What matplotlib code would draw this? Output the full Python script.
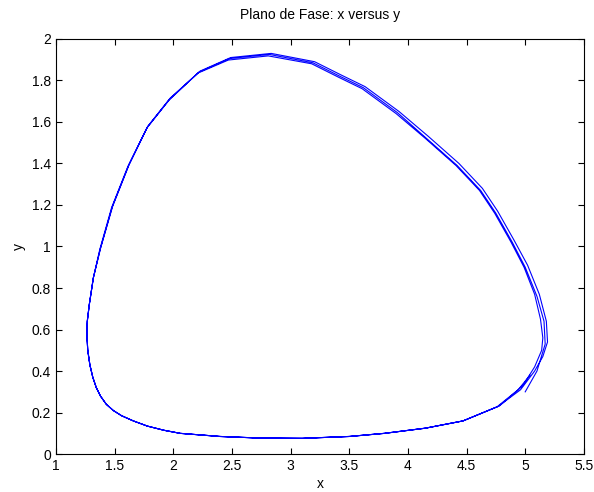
import numpy as np
import matplotlib
matplotlib.use('Agg')
import matplotlib.pyplot as plt

plt.rcParams['font.family'] = ['Liberation Sans', 'DejaVu Sans']

# trajectory, one cycle per list (counterclockwise)
loop1_x = [5.00, 5.10, 5.17, 5.16, 5.10, 5.00, 4.89, 4.75, 4.62, 4.42, 4.16, 3.91, 3.62, 3.42, 3.19,
           2.82, 2.48, 2.22, 1.97, 1.78, 1.62, 1.48, 1.38, 1.32, 1.285, 1.268, 1.265, 1.272, 1.29,
           1.315, 1.345, 1.38, 1.43, 1.49, 1.56, 1.66, 1.78, 1.92, 2.06, 2.40, 2.75, 3.10, 3.50, 3.80,
           4.15, 4.47, 4.77, 4.96]
loop1_y = [0.30, 0.40, 0.53, 0.64, 0.76, 0.90, 1.02, 1.16, 1.27, 1.39, 1.52, 1.645, 1.765, 1.82, 1.885,
           1.925, 1.905, 1.84, 1.71, 1.575, 1.39, 1.19, 0.99, 0.85, 0.72, 0.64, 0.57, 0.50, 0.43,
           0.37, 0.32, 0.28, 0.24, 0.21, 0.185, 0.16, 0.135, 0.115, 0.10, 0.085, 0.077, 0.076, 0.085,
           0.10, 0.125, 0.16, 0.23, 0.31]

loop2_x = [4.96, 5.08, 5.15, 5.19, 5.18, 5.12, 5.02, 4.905, 4.765, 4.635, 4.435, 4.175, 3.925, 3.635,
           3.435, 3.205, 2.835, 2.49, 2.23, 1.975, 1.785, 1.625, 1.485, 1.38, 1.32, 1.285, 1.268, 1.265,
           1.272, 1.29, 1.315, 1.345, 1.38, 1.43, 1.49, 1.56, 1.66, 1.78, 1.92, 2.06, 2.40, 2.75, 3.10,
           3.50, 3.80, 4.15, 4.47, 4.78, 4.98]
loop2_y = [0.31, 0.40, 0.47, 0.54, 0.64, 0.77, 0.91, 1.03, 1.17, 1.28, 1.40, 1.53, 1.65, 1.77, 1.825,
           1.89, 1.93, 1.91, 1.845, 1.715, 1.58, 1.395, 1.195, 0.99, 0.85, 0.72, 0.64, 0.57, 0.50,
           0.43, 0.37, 0.32, 0.28, 0.24, 0.21, 0.185, 0.16, 0.135, 0.115, 0.10, 0.085, 0.077, 0.076,
           0.085, 0.10, 0.125, 0.16, 0.232, 0.33]

loop3_x = [4.98, 5.08, 5.14, 5.15, 5.13, 5.08, 4.99, 4.88, 4.74, 4.61, 4.41, 4.15, 3.90, 3.61, 3.41,
           3.18, 2.81, 2.47, 2.21, 1.965, 1.775, 1.615, 1.475, 1.375, 1.32, 1.285, 1.268, 1.265,
           1.272, 1.29, 1.315, 1.345, 1.38, 1.43, 1.49, 1.56, 1.66, 1.78, 1.92, 2.06, 2.40, 2.75,
           3.10, 3.50, 3.80, 4.15, 4.47, 4.76, 4.94, 5.04]
loop3_y = [0.33, 0.42, 0.50, 0.56, 0.65, 0.77, 0.90, 1.02, 1.16, 1.27, 1.39, 1.52, 1.64, 1.76, 1.815,
           1.88, 1.918, 1.898, 1.835, 1.705, 1.57, 1.387, 1.187, 0.987, 0.85, 0.72, 0.64, 0.57, 0.50,
           0.43, 0.37, 0.32, 0.28, 0.24, 0.21, 0.185, 0.16, 0.135, 0.115, 0.10, 0.085, 0.077, 0.076,
           0.085, 0.10, 0.125, 0.16, 0.228, 0.31, 0.38]

x = loop1_x + loop2_x + loop3_x
y = loop1_y + loop2_y + loop3_y

fig = plt.figure(figsize=(5.94, 4.92), dpi=100)
ax = fig.add_axes([0.094, 0.077, 0.889, 0.844])
ax.plot(x, y, color=(0, 0, 1), lw=0.8)

ax.set_xlim(1, 5.5)
ax.set_ylim(0, 2)
ax.set_xticks(np.arange(1, 5.51, 0.5))
ax.set_yticks(np.arange(0, 2.01, 0.2))
ax.set_xticklabels(['1', '1.5', '2', '2.5', '3', '3.5', '4', '4.5', '5', '5.5'])
ax.set_yticklabels(['0', '0.2', '0.4', '0.6', '0.8', '1', '1.2', '1.4', '1.6', '1.8', '2'])
ax.tick_params(direction='in', top=True, right=True, length=4, width=0.8, labelsize=10)
for s in ax.spines.values():
    s.set_linewidth(0.8)

ax.set_title('Plano de Fase: x versus y', fontsize=10, pad=14)
ax.set_xlabel('x', fontsize=10, labelpad=3)
ax.set_ylabel('y', fontsize=10)

plt.savefig('out.png', dpi=100)
plt.close()
